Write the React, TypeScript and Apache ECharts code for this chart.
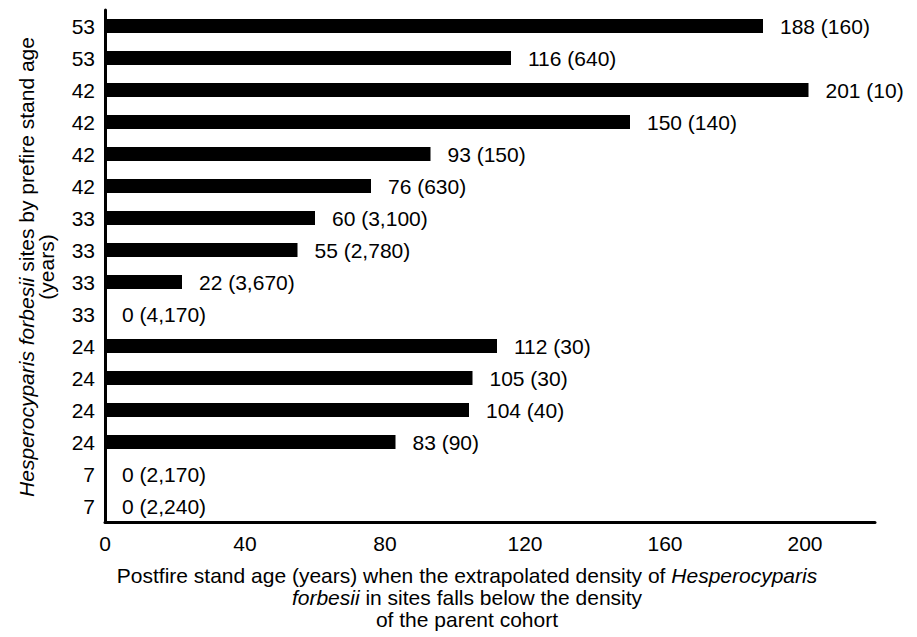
import React, { useEffect, useRef } from "react";
import * as echarts from "echarts";

// Prefire stand age of each Hesperocyparis forbesii site (y tick labels, top to bottom)
const prefireAges: string[] = ["53", "53", "42", "42", "42", "42", "33", "33", "33", "33", "24", "24", "24", "24", "7", "7"];
// Postfire stand age (years) when extrapolated density falls below parent cohort density
const postfireAges: number[] = [188, 116, 201, 150, 93, 76, 60, 55, 22, 0, 112, 105, 104, 83, 0, 0];
// Values shown in parentheses
const densities: number[] = [160, 640, 10, 140, 150, 630, 3100, 2780, 3670, 4170, 30, 30, 40, 90, 2170, 2240];
// x tick settings
const xMin = 0;
const xMax = 220;
const xInterval = 40;

const FONT = "'Liberation Sans', Arial, Helvetica, sans-serif";
const FS = 21;

export default function App() {
  const ref = useRef<HTMLDivElement>(null);
  useEffect(() => {
    if (!ref.current) return;
    const chart = echarts.init(ref.current, undefined, { renderer: "svg" });
    const categories = prefireAges.map((_, i) => String(i));
    chart.setOption({
      animation: false,
      backgroundColor: "#ffffff",
      textStyle: { fontFamily: FONT },
      grid: { left: 105, right: 42, top: 10, bottom: 115, containLabel: false },
      xAxis: {
        type: "value",
        min: xMin,
        max: xMax,
        interval: xInterval,
        axisLine: { show: true, lineStyle: { color: "#000", width: 3 } },
        axisTick: { show: false },
        splitLine: { show: false },
        axisLabel: {
          color: "#000",
          fontSize: FS,
          fontFamily: FONT,
          margin: 11,
          showMaxLabel: false,
        },
      },
      yAxis: {
        type: "category",
        inverse: true,
        data: categories,
        axisLine: { show: true, lineStyle: { color: "#000", width: 3 } },
        axisTick: { show: false },
        splitLine: { show: false },
        axisLabel: {
          color: "#000",
          fontSize: FS,
          fontFamily: FONT,
          margin: 10,
          formatter: (v: string) => prefireAges[Number(v)],
        },
      },
      series: [
        {
          type: "bar",
          data: postfireAges,
          barWidth: 14,
          itemStyle: { color: "#000" },
          label: {
            show: true,
            position: "right",
            distance: 17,
            color: "#000",
            fontSize: FS,
            fontFamily: FONT,
            formatter: (p: any) =>
              `${postfireAges[p.dataIndex]} (${densities[p.dataIndex].toLocaleString("en-US")})`,
          },
        },
      ],
      graphic: [
        {
          type: "text",
          x: 467,
          y: 597,
          style: {
            text:
              "{n|Postfire stand age (years) when the extrapolated density of }{i|Hesperocyparis}\n{i|forbesii}{n| in sites falls below the density}\n{n|of the parent cohort}",
            align: "center",
            verticalAlign: "middle",
            fill: "#000",
            fontSize: FS,
            fontFamily: FONT,
            lineHeight: 22,
            rich: {
              n: { fontSize: FS, fontFamily: FONT, fill: "#000", lineHeight: 22 },
              i: { fontSize: FS, fontFamily: FONT, fontStyle: "italic", fill: "#000", lineHeight: 22 },
            },
          },
        },
        {
          type: "text",
          x: 36,
          y: 267,
          rotation: Math.PI / 2,
          style: {
            text: "{i|Hesperocyparis forbesii}{n| sites by prefire stand age}\n{n|(years)}",
            align: "center",
            verticalAlign: "middle",
            fill: "#000",
            fontSize: FS,
            fontFamily: FONT,
            lineHeight: 20,
            rich: {
              n: { fontSize: FS, fontFamily: FONT, fill: "#000", lineHeight: 20 },
              i: { fontSize: FS, fontFamily: FONT, fontStyle: "italic", fill: "#000", lineHeight: 20 },
            },
          },
        },
      ],
    });
    return () => chart.dispose();
  }, []);
  return (
    <div
      ref={ref}
      style={{ position: "absolute", left: 0, top: 0, width: 917, height: 637 }}
    />
  );
}
